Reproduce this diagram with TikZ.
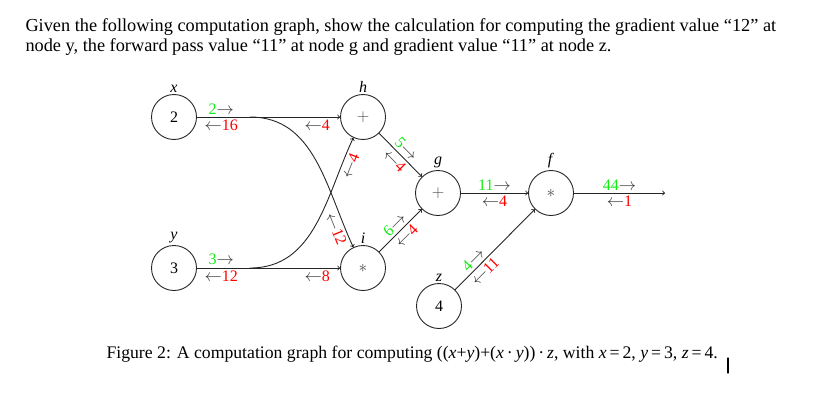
\documentclass[tikz,border=0pt]{standalone}
\usepackage{fontspec}
\setmainfont{Liberation Serif}
\definecolor{fwd}{RGB}{20,235,20}
\definecolor{bwd}{RGB}{255,0,0}
\definecolor{arr}{RGB}{60,60,60}
\newcommand{\fwdval}[1]{{\color{fwd}#1}\textcolor{arr}{$\rightarrow$}}
\newcommand{\bwdval}[1]{\textcolor{arr}{$\leftarrow$}{\color{bwd}#1}}
\begin{document}
\begin{tikzpicture}[x=1pt,y=1pt,line cap=round,line join=round,font=\fontsize{16}{18}\selectfont,
		var/.style={circle,draw=black!85,line width=0.9pt,minimum size=45pt,inner sep=0pt},
		edge/.style={->,draw=black!85,line width=0.9pt},
		every label/.style={inner sep=1.5pt},
		lab/.style={inner sep=2.5pt}]
	\useasboundingbox (0,0) rectangle (813,408);
	\node[anchor=base west,font=\fontsize{18.3}{21}\selectfont] (head1) at (22,376) {Given the following computation graph, show the calculation for computing the gradient value “12” at};
	\node[anchor=base west,font=\fontsize{18.3}{21}\selectfont] (head2) at (22,356) {node y, the forward pass value “11” at node g and gradient value “11” at node z.};
	\node[var,label=above:\textit{x}] (vx) at (174,291) {2};
	\node[var,label=above:\textit{y}] (vy) at (174,140) {3};
	\node[var,label=above:\textit{h}] (vh) at (363,291) {\textcolor{black!70}{$+$}};
	\node[var,label=above:\textit{i}] (vi) at (363,140) {\textcolor{black!70}{$*$}};
	\node[var,label=above:\textit{g}] (vg) at (438,215) {\textcolor{black!70}{$+$}};
	\node[var,label=above:\textit{f}] (vf) at (551,215) {\textcolor{black!70}{$*$}};
	\node[var,label=above:\textit{z}] (vz) at (439,102) {4};
	\coordinate (xs) at (250,291);
	\coordinate (ys) at (250,140);
	\coordinate (out) at (665,215);
	\draw[edge] (vx) -- node[lab,above,pos=.17]{\fwdval{2}} node[lab,below,pos=.17]{\bwdval{16}} node[lab,below,pos=.84]{\bwdval{4}} (vh);
	\draw[edge] (vy) -- node[lab,above,pos=.17]{\fwdval{3}} node[lab,below,pos=.17]{\bwdval{12}} node[lab,below,pos=.84]{\bwdval{8}} (vi);
	\draw[edge] (xs) to[out=0,in=115] node[lab,below,sloped,pos=.88]{\bwdval{12}} (vi);
	\draw[edge] (ys) to[out=0,in=-115] node[lab,below,sloped,pos=.86]{\bwdval{4}} (vh);
	\draw[edge] (vh) -- node[lab,above,sloped]{\fwdval{5}} node[lab,below,sloped]{\bwdval{4}} (vg);
	\draw[edge] (vi) -- node[lab,above,sloped]{\fwdval{6}} node[lab,below,sloped]{\bwdval{4}} (vg);
	\draw[edge] (vg) -- node[lab,above]{\fwdval{11}} node[lab,below]{\bwdval{4}} (vf);
	\draw[edge] (vz) -- node[lab,above,sloped,pos=.3]{\fwdval{4}} node[lab,below,sloped,pos=.3]{\bwdval{11}} (vf);
	\draw[edge] (vf) -- node[lab,above]{\fwdval{44}} node[lab,below]{\bwdval{1}} (out);
	\node[anchor=base west,font=\fontsize{17.7}{20}\selectfont] (cap) at (103,50) {Figure 2: A computation graph for computing ((\textit{x}+\textit{y})+(\textit{x}\,·\,\textit{y}))\,·\,\textit{z}, with \textit{x}\,=\,2, \textit{y}\,=\,3, \textit{z}\,=\,4.};
	\draw[line width=1.3pt] (728,50) -- (728,35);
\end{tikzpicture}
\end{document}
